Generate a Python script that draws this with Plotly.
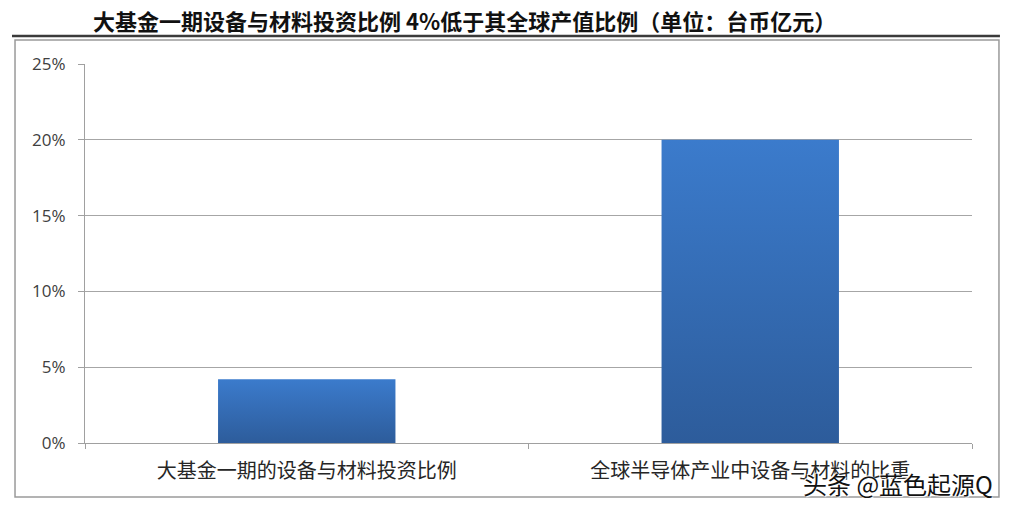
import plotly.graph_objects as go

categories = ["大基金一期的设备与材料投资比例", "全球半导体产业中设备与材料的比重"]
values = [0.042, 0.20]
y_ticks = [0, 0.05, 0.10, 0.15, 0.20, 0.25]
y_tick_labels = ["0%", "5%", "10%", "15%", "20%", "25%"]
title_text = "大基金一期设备与材料投资比例 4%低于其全球产值比例（单位：台币亿元）"
watermark = "头条 @蓝色起源Q"

bar_half = 0.2
fig = go.Figure()
for i, v in enumerate(values):
    fig.add_trace(go.Scatter(
        x=[i - bar_half, i + bar_half, i + bar_half, i - bar_half, i - bar_half],
        y=[0, 0, v, v, 0],
        mode="lines", line=dict(width=0, color="rgba(0,0,0,0)"),
        fill="toself",
        fillgradient=dict(type="vertical", start=0, stop=v,
                          colorscale=[[0, "#2d5c9b"], [1, "#3b7bcc"]]),
        hoverinfo="skip",
    ))

fig.update_layout(
    width=1010, height=510,
    margin=dict(l=77, r=46, t=56, b=75, autoexpand=False),
    paper_bgcolor="white", plot_bgcolor="white",
    showlegend=False,
    font=dict(family="Noto Sans CJK SC", color="#262626"),
    xaxis=dict(
        range=[-0.5, 1.5], tickvals=[0, 1], ticktext=categories,
        ticks="", ticklabelstandoff=10,
        showline=True, linecolor="#a0a0a0", linewidth=1,
        showgrid=False, zeroline=False,
        minor=dict(tickvals=[-0.5, 0.5, 1.5], ticks="outside", ticklen=5,
                   tickcolor="#a0a0a0", showgrid=False),
        tickfont=dict(family="Noto Sans CJK SC", size=20, color="#262626"),
    ),
    yaxis=dict(
        range=[0, 0.25], tickvals=y_ticks, ticktext=y_tick_labels,
        ticks="outside", ticklen=6, tickcolor="#a0a0a0", ticklabelstandoff=9,
        showline=True, linecolor="#a0a0a0", linewidth=1,
        showgrid=True, gridcolor="#a6a6a6", gridwidth=1, zeroline=False,
        tickfont=dict(family="Open Sans", size=17, color="#404040"),
    ),
    shapes=[
        dict(type="rect", xref="paper", yref="paper",
             x0=-0.0789, x1=1.0304, y0=-0.1425, y1=1.0633,
             line=dict(color="#9a9a9a", width=1.5), fillcolor="rgba(0,0,0,0)", layer="below"),
        dict(type="line", xref="paper", yref="paper",
             x0=-0.0823, x1=1.0315, y0=1.0739, y1=1.0739,
             line=dict(color="#3a3a3a", width=2.5)),
    ],
    annotations=[
        dict(text=title_text, xref="paper", yref="paper", x=0.428, y=1.117,
             xanchor="center", yanchor="middle", showarrow=False,
             font=dict(family="Noto Sans CJK SC", size=22, color="#111111", weight="bold")),
        dict(text=watermark, xref="paper", yref="paper", x=1.026, y=-0.108,
             xanchor="right", yanchor="middle", showarrow=False,
             font=dict(family="Noto Sans CJK SC", size=24, color="#111111",
                       shadow="1px 1px 1px white, -1px -1px 1px white")),
    ],
)

fig.write_html("out.html")
